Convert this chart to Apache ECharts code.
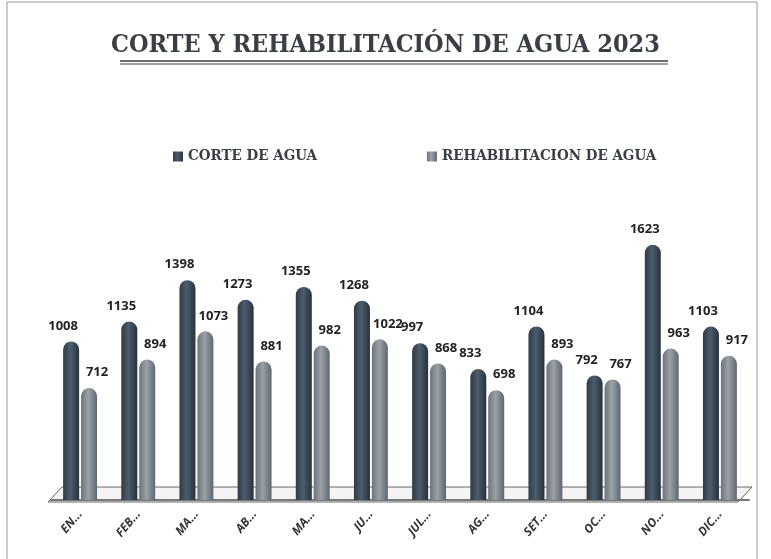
<!DOCTYPE html>
<html>
<head>
<meta charset="utf-8">
<script src="https://cdn.jsdelivr.net/npm/echarts@6/dist/echarts.min.js"></script>
<style>
  html, body { margin: 0; padding: 0; background: #fff; }
  #chart { width: 771px; height: 559px; }
</style>
</head>
<body>
<div id="chart"></div>
<script>
// months as printed (truncated) under the bars
const meses = ['EN...', 'FEB...', 'MA...', 'AB...', 'MA...', 'JU...', 'JUL...', 'AG...', 'SET...', 'OC...', 'NO...', 'DIC...'];
const corteAgua = [1008, 1135, 1398, 1273, 1355, 1268, 997, 833, 1104, 792, 1623, 1103];
const rehabAgua = [712, 894, 1073, 881, 982, 1022, 868, 698, 893, 767, 963, 917];

const chart = echarts.init(document.getElementById('chart'));

function cyl(c1, c2, c3) {
    return new echarts.graphic.LinearGradient(0, 0, 1, 0, [
        {offset: 0, color: c1},
        {offset: 0.45, color: c2},
        {offset: 1, color: c3}
    ]);
}

const option = {
    backgroundColor: '#fff',
    animation: false,
    title: {
        text: 'CORTE Y REHABILITACIÓN DE AGUA 2023',
        left: 'center',
        top: 28,
        textStyle: {
            fontFamily: 'DejaVu Serif Condensed',
            fontWeight: 'bold',
            fontSize: 25,
            color: '#3a3f45'
        }
    },
    legend: {
        top: 144,
        left: 168,
        itemGap: 110,
        itemWidth: 10,
        itemHeight: 10,
        icon: 'rect',
        textStyle: {
            fontFamily: 'DejaVu Serif Condensed',
            fontWeight: 'bold',
            fontSize: 15,
            color: '#3a3f45'
        }
    },
    grid: {
        left: 51,
        right: 22,
        top: 217,
        bottom: 59
    },
    xAxis: {
        type: 'category',
        data: meses,
        axisTick: {show: false},
        axisLine: {lineStyle: {color: '#777', width: 2}},
        axisLabel: {
            rotate: 50,
            margin: 12,
            fontFamily: 'Open Sans',
            fontStyle: 'italic',
            fontWeight: 'bold',
            fontSize: 12,
            color: '#333'
        }
    },
    yAxis: {
        type: 'value',
        min: 0,
        max: 1800,
        show: false,
        splitLine: {show: false}
    },
    series: [
        {
            name: 'CORTE DE AGUA',
            type: 'bar',
            data: corteAgua,
            barWidth: 16,
            barGap: '12%',
            itemStyle: {
                color: cyl('#2e3b47', '#4d5d6c', '#27323c'),
                borderRadius: [8, 8, 0, 0]
            },
            label: {
                show: true,
                position: 'top',
                offset: [-8, -4],
                fontFamily: 'Open Sans',
                fontWeight: 'bold',
                fontSize: 13,
                color: '#222'
            }
        },
        {
            name: 'REHABILITACION DE AGUA',
            type: 'bar',
            data: rehabAgua,
            barWidth: 16,
            itemStyle: {
                color: cyl('#6c747b', '#9aa1a7', '#5f676e'),
                borderRadius: [8, 8, 0, 0]
            },
            label: {
                show: true,
                position: 'top',
                offset: [8, -4],
                fontFamily: 'Open Sans',
                fontWeight: 'bold',
                fontSize: 13,
                color: '#222'
            }
        }
    ],
    graphic: [
        {
            type: 'rect',
            shape: {x: 7, y: 2, width: 750, height: 560},
            style: {fill: null, stroke: '#999', lineWidth: 1},
            silent: true
        },
        {
            type: 'line',
            shape: {x1: 120, y1: 61, x2: 668, y2: 61},
            style: {stroke: '#3a3f45', lineWidth: 1.5}
        },
        {
            type: 'line',
            shape: {x1: 120, y1: 64, x2: 668, y2: 64},
            style: {stroke: '#3a3f45', lineWidth: 1}
        },
        {
            type: 'polygon',
            shape: {points: [[48, 502], [62, 487], [752, 487], [738, 502]]},
            style: {fill: '#f4f4f4', stroke: '#666', lineWidth: 1},
            z: -1
        }
    ]
};

chart.setOption(option);
window.addEventListener('resize', function () {
    chart.resize();
});
</script>
</body>
</html>
